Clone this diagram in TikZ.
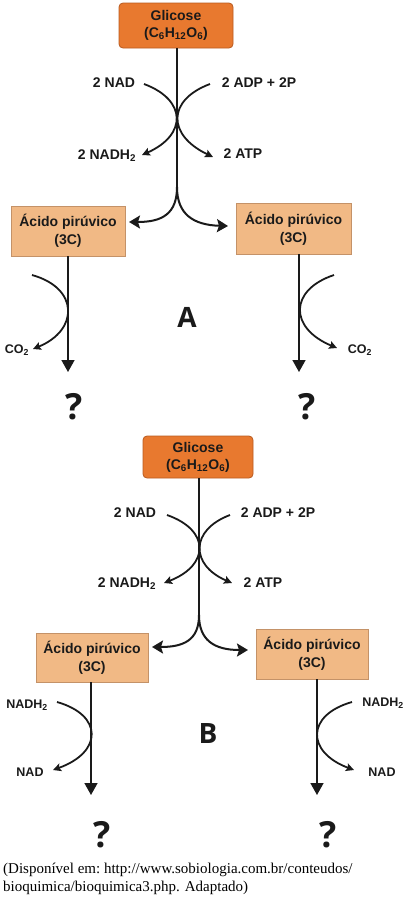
\documentclass[tikz,border=0pt]{standalone}
\usepackage{fontspec}
\setmainfont{Liberation Sans}
\newfontfamily\serifcap{Liberation Serif}
\newfontfamily\bigsans{Open Sans}
\usetikzlibrary{arrows.meta}
\definecolor{glufill}{HTML}{E8792F}
\definecolor{gluedge}{HTML}{B85A20}
\definecolor{pyrfill}{HTML}{F1B985}
\definecolor{pyredge}{HTML}{C49268}
\definecolor{ink}{HTML}{1A1A1A}
\tikzset{
  glubox/.style={draw=gluedge, line width=0.8pt, fill=glufill, rounded corners=4pt, align=center, inner sep=0pt, font=\bfseries\fontsize{14}{17}\selectfont, text=ink},
  pyrbox/.style={draw=pyredge, line width=0.6pt, fill=pyrfill, align=center, inner sep=0pt, font=\bfseries\fontsize{14}{18}\selectfont, text=ink},
  lab/.style={font=\bfseries\fontsize{14}{16}\selectfont, text=ink, inner sep=0pt},
  labs/.style={font=\bfseries\fontsize{12.5}{15}\selectfont, text=ink, inner sep=0pt},
  bigl/.style={font=\bigsans\bfseries\fontsize{28}{30}\selectfont, text=ink, inner sep=0pt},
  qm/.style={font=\bigsans\bfseries\fontsize{36}{38}\selectfont, text=ink, inner sep=0pt},
  mainline/.style={draw=ink, line width=1.5pt},
  sidecurve/.style={draw=ink, line width=1.8pt, -{Stealth[length=8pt,width=8pt,inset=1.5pt]}},
  splitarrow/.style={draw=ink, line width=2pt, -{Stealth[length=11pt,width=13pt,inset=2pt]}},
  downarrow/.style={draw=ink, line width=1.6pt, -{Triangle[length=12pt,width=13pt]}},
}
\begin{document}
\begin{tikzpicture}[x=1pt,y=-1pt]
\useasboundingbox (0,0) rectangle (415,898);

% ---------------- A ----------------
\node[glubox, minimum width=114pt, minimum height=45pt] (gA) at (176,25.5) {Glicose\\(C\textsubscript{6}H\textsubscript{12}O\textsubscript{6})};
\node[pyrbox, minimum width=114pt, minimum height=50pt] (pAl) at (68,231) {Ácido pirúvico\\(3C)};
\node[pyrbox, minimum width=115pt, minimum height=51pt] (pAr) at (293.5,228.5) {Ácido pirúvico\\(3C)};

\coordinate (sA) at (177,187);
\coordinate (tAl) at (129,222);
\coordinate (tAr) at (228,226);
\draw[mainline] (gA.south -| sA) -- (sA);
\draw[splitarrow] (sA) .. controls (177,214) and (162,222) .. (tAl);
\draw[splitarrow] (sA) .. controls (177,214) and (193,225) .. (tAr);

\node[lab] (nadA) at (114,83) {2 NAD};
\node[lab] (adpA) at (259,83) {2 ADP + 2P};
\node[lab] (nadhA) at (107,156) {2 NADH\textsubscript{2}};
\node[lab] (atpA) at (243,154) {2 ATP};
\coordinate (c1s) at (144,84);
\coordinate (c1e) at (142,155);
\coordinate (c2s) at (210,84);
\coordinate (c2e) at (213,157);
\draw[sidecurve] (c1s) .. controls (187,100) and (187,135) .. (c1e);
\draw[sidecurve] (c2s) .. controls (167,100) and (167,135) .. (c2e);

\coordinate (dAl) at (68,372);
\coordinate (dAr) at (299,372);
\draw[downarrow] (pAl.south) -- (dAl);
\draw[downarrow] (pAr.south -| dAr) -- (dAr);
\coordinate (c3s) at (32,275);
\coordinate (c3e) at (33,349);
\coordinate (c4s) at (334,275);
\coordinate (c4e) at (337,348);
\draw[sidecurve] (c3s) .. controls (79,288) and (79,330) .. (c3e);
\draw[sidecurve] (c4s) .. controls (289,290) and (289,328) .. (c4e);
\node[labs] (co2l) at (17,350) {CO\textsubscript{2}};
\node[labs] (co2r) at (360,350) {CO\textsubscript{2}};

\node[bigl] (lA) at (187,317) {A};
\node[qm] (qA1) at (74,407) {?};
\node[qm] (qA2) at (307,407) {?};

% ---------------- B ----------------
\node[glubox, minimum width=110pt, minimum height=42pt] (gB) at (198,457) {Glicose\\(C\textsubscript{6}H\textsubscript{12}O\textsubscript{6})};
\node[pyrbox, minimum width=112pt, minimum height=49pt] (pBl) at (92,657.5) {Ácido pirúvico\\(3C)};
\node[pyrbox, minimum width=112pt, minimum height=50pt] (pBr) at (312,654) {Ácido pirúvico\\(3C)};

\coordinate (sB) at (199,615);
\coordinate (tBl) at (152,647);
\coordinate (tBr) at (248,650);
\draw[mainline] (gB.south -| sB) -- (sB);
\draw[splitarrow] (sB) .. controls (199,640) and (184,647) .. (tBl);
\draw[splitarrow] (sB) .. controls (199,640) and (214,650) .. (tBr);

\node[lab] (nadB) at (135,513) {2 NAD};
\node[lab] (adpB) at (278,513) {2 ADP + 2P};
\node[lab] (nadhB) at (127,584) {2 NADH\textsubscript{2}};
\node[lab] (atpB) at (263,583) {2 ATP};
\coordinate (c5s) at (167,515);
\coordinate (c5e) at (164,583);
\coordinate (c6s) at (230,515);
\coordinate (c6e) at (232,583);
\draw[sidecurve] (c5s) .. controls (210,530) and (210,565) .. (c5e);
\draw[sidecurve] (c6s) .. controls (190,530) and (190,565) .. (c6e);

\coordinate (dBl) at (91,795);
\coordinate (dBr) at (317,795);
\draw[downarrow] (pBl.south -| dBl) -- (dBl);
\draw[downarrow] (pBr.south -| dBr) -- (dBr);
\coordinate (c7s) at (57,702);
\coordinate (c7e) at (53,770);
\coordinate (c8s) at (352,702);
\coordinate (c8e) at (354,770);
\draw[sidecurve] (c7s) .. controls (103,715) and (103,752) .. (c7e);
\draw[sidecurve] (c8s) .. controls (306,715) and (306,752) .. (c8e);
\node[labs] (nadhBl) at (27,705) {NADH\textsubscript{2}};
\node[labs] (nadBl) at (30,772) {NAD};
\node[labs] (nadhBr) at (383,703) {NADH\textsubscript{2}};
\node[labs] (nadBr) at (382,772) {NAD};

\node[bigl] (lB) at (208,733) {B};
\node[qm] (qB1) at (102,835) {?};
\node[qm] (qB2) at (328,835) {?};

% ---------------- caption ----------------
\node[anchor=west, inner sep=0pt, align=left, font=\serifcap\fontsize{15}{18}\selectfont] (cap) at (3,879) {\frenchspacing(Disponível em: http://www.sobiologia.com.br/conteudos/\\bioquimica/bioquimica3.php. Adaptado)};
\end{tikzpicture}
\end{document}
